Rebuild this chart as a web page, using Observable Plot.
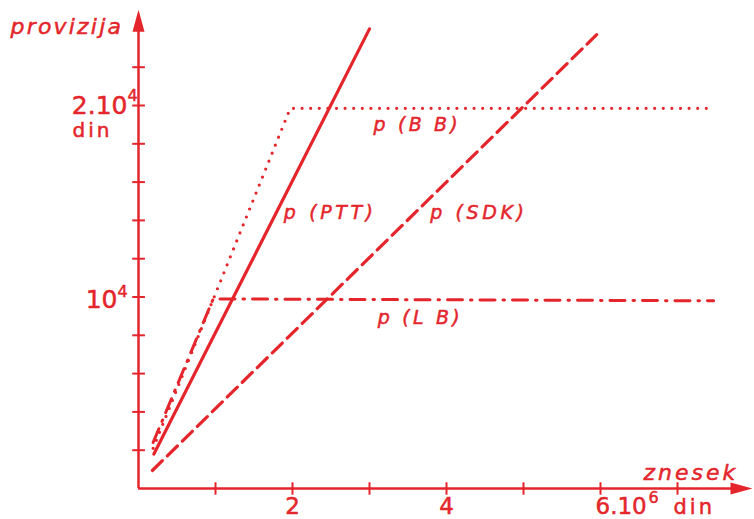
<!DOCTYPE html>
<html>
<head>
<meta charset="utf-8">
<script src="https://cdn.jsdelivr.net/npm/d3@7"></script>
<script src="https://cdn.jsdelivr.net/npm/@observablehq/plot@0.6"></script>
<style>
  html, body { margin: 0; padding: 0; background: #fff; }
  svg text { font-family: "DejaVu Sans", sans-serif; }
</style>
</head>
<body>
<div id="chart"></div>
<script>
// amounts in 10^6 din (x), commission in 10^4 din (y)
const xTicks = [1, 2, 3, 4, 5, 6, 7];
const yTicks = [0.2, 0.4, 0.6, 0.8, 1.0, 1.2, 1.4, 1.6, 1.8, 2.0, 2.2];
const xTickLabels = ["2", "4"];
const xTickLabelPos = [2, 4];

const pttX = [0.2, 3.0];
const pttY = [0.18, 2.4];
const sdkX = [0.18, 5.95];
const sdkY = [0.094, 2.37];
const bbX = [0.19, 1.97, 7.47];
const bbY = [0.21, 1.985, 1.985];
const lbX = [0.19, 0.97, 7.47];
const lbY = [0.24, 0.99, 0.98];

const seriesLabels = ["p (PTT)", "p (SDK)", "p (B B)", "p (L B)"];
const seriesLabelX = [2.49, 4.42, 3.62, 3.66];
const seriesLabelY = [1.44, 1.44, 1.90, 0.89];

const red = "#e4252b";
const toRows = (xs, ys) => xs.map((x, i) => ({x, y: ys[i]}));

const arrowHead = {
  draw(ctx) {
    ctx.moveTo(0, 0);
    ctx.lineTo(6, 22);
    ctx.lineTo(-6, 22);
    ctx.closePath();
  }
};

const lineBase = {x: "x", y: "y", stroke: red, strokeWidth: 3, strokeLinejoin: "round"};
const ink = {fill: red, stroke: red, strokeWidth: 0.5};
const italic = {...ink, fontStyle: "italic"};
const t1 = (s, o) => Plot.text([s], {text: d => d, ...o});

const chart = Plot.plot({
  width: 754,
  height: 519,
  marginLeft: 138,
  marginRight: 0,
  marginTop: 0,
  marginBottom: 31,
  x: {domain: [0, 8], axis: null},
  y: {domain: [0, 488 / 191.5], axis: null},
  marks: [
    // axes
    Plot.ruleY([0], {x1: 0, x2: 7.75, stroke: red, strokeWidth: 2.5}),
    Plot.ruleX([0], {y1: 0, y2: 2.4, stroke: red, strokeWidth: 2.5}),
    Plot.ruleX(xTicks, {x: d => d, y1: -0.035, y2: 0.03, stroke: red, strokeWidth: 2}),
    Plot.ruleY(yTicks, {y: d => d, x1: -0.075, x2: 0.09, stroke: red, strokeWidth: 2}),
    Plot.dot([{x: 0, y: 2.5}], {x: "x", y: "y", symbol: arrowHead, fill: red, stroke: "none"}),
    Plot.dot([{x: 7.974, y: 0}], {x: "x", y: "y", symbol: arrowHead, fill: red, stroke: "none", rotate: 90}),
    // series
    Plot.line(toRows(pttX, pttY), {...lineBase, strokeWidth: 3.2}),
    Plot.line(toRows(sdkX, sdkY), {...lineBase, strokeWidth: 3.2, strokeDasharray: "14,7"}),
    Plot.line(toRows(bbX, bbY), {...lineBase, strokeWidth: 3.2, strokeLinecap: "round", strokeDasharray: "0,8.6"}),
    Plot.line(toRows(lbX, lbY), {...lineBase, strokeWidth: 3, strokeDasharray: "15,8,1.5,8"}),
    // series labels
    Plot.text(seriesLabels.map((t, i) => ({t, x: seriesLabelX[i], y: seriesLabelY[i]})),
      {x: "x", y: "y", text: "t", ...italic, fontSize: 19}),
    // x tick labels
    Plot.text(xTickLabels.map((t, i) => ({t, x: xTickLabelPos[i]})),
      {x: "x", y: 0, text: "t", ...ink, fontSize: 23, lineAnchor: "bottom", dy: 25}),
    t1("6.10", {x: 6, y: 0, ...ink, fontSize: 23, textAnchor: "start", lineAnchor: "bottom", dx: -5, dy: 25}),
    t1("6", {x: 6, y: 0, ...ink, fontSize: 16, textAnchor: "start", lineAnchor: "bottom", dx: 48, dy: 14}),
    t1("din", {x: 6, y: 0, ...ink, fontSize: 21, textAnchor: "start", lineAnchor: "bottom", dx: 73, dy: 25}),
    // y tick labels
    t1("2.10", {x: 0, y: 2.0, ...ink, fontSize: 25, textAnchor: "end", lineAnchor: "bottom", dx: -11, dy: 8}),
    t1("4", {x: 0, y: 2.0, ...ink, fontSize: 16, textAnchor: "start", lineAnchor: "bottom", dx: -11, dy: -5}),
    t1("din", {x: 0, y: 2.0, ...ink, fontSize: 20, textAnchor: "middle", lineAnchor: "bottom", dx: -46, dy: 31}),
    t1("10", {x: 0, y: 1.0, ...ink, fontSize: 25, textAnchor: "end", lineAnchor: "bottom", dx: -21, dy: 10.5}),
    t1("4", {x: 0, y: 1.0, ...ink, fontSize: 16, textAnchor: "start", lineAnchor: "bottom", dx: -21, dy: 0}),
    // axis titles
    t1("provizija", {x: 0, y: 2.5, ...italic, fontSize: 22, textAnchor: "start", lineAnchor: "bottom", dx: -128, dy: 24}),
    t1("znesek", {x: 7.7, y: 0, ...italic, fontSize: 22, textAnchor: "start", lineAnchor: "bottom", dx: -88, dy: -9})
  ]
});

// letter spacing of the hand lettering
const spacing = {"provizija": 2.2, "znesek": 3, "din": 3, "p (PTT)": 3.6, "p (SDK)": 3.6, "p (B B)": 3.2, "p (L B)": 3.2};
d3.select(chart).selectAll("text").each(function () {
  const s = spacing[this.textContent];
  if (s != null) this.setAttribute("letter-spacing", s);
});
document.getElementById("chart").appendChild(chart);
</script>
</body>
</html>
